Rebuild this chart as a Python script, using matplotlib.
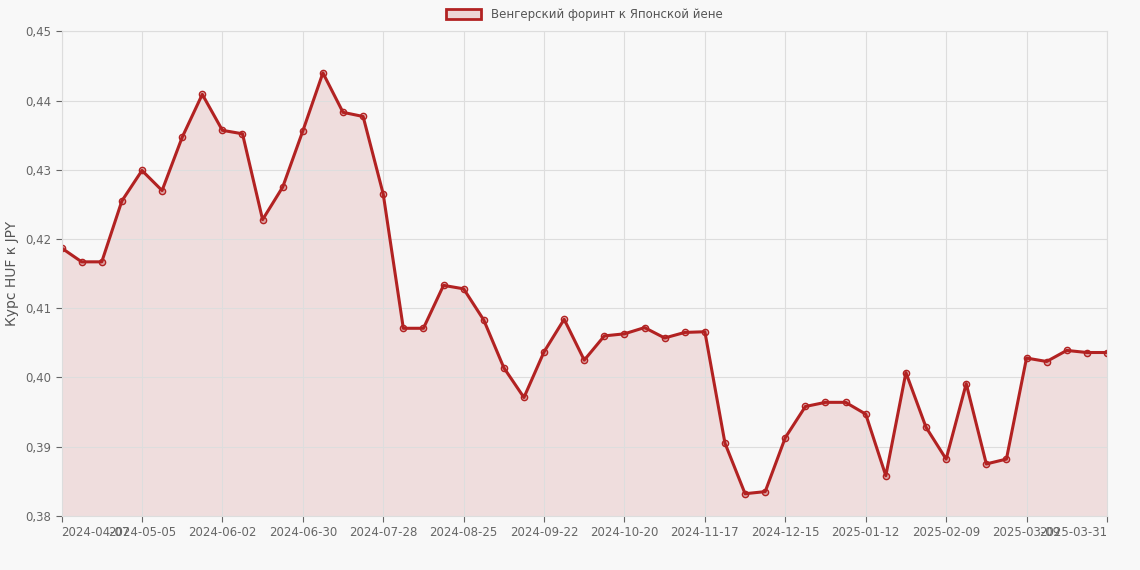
import matplotlib
matplotlib.use("Agg")
import matplotlib.pyplot as plt
from matplotlib.patches import Patch
import numpy as np

tick_labels = ["2024-04-07", "2024-05-05", "2024-06-02", "2024-06-30", "2024-07-28",
               "2024-08-25", "2024-09-22", "2024-10-20", "2024-11-17", "2024-12-15",
               "2025-01-12", "2025-02-09", "2025-03-09", "2025-03-31"]
rates = [0.4187, 0.4167, 0.4167, 0.4255, 0.4299, 0.4270, 0.4347, 0.4409, 0.4357, 0.4352,
         0.4228, 0.4275, 0.4356, 0.4440, 0.4383, 0.4377, 0.4265, 0.4071, 0.4071, 0.4133,
         0.4128, 0.4083, 0.4014, 0.3971, 0.4037, 0.4084, 0.4025, 0.4060, 0.4063, 0.4072,
         0.4057, 0.4065, 0.4066, 0.3905, 0.3832, 0.3835, 0.3913, 0.3958, 0.3964, 0.3964,
         0.3947, 0.3858, 0.4007, 0.3928, 0.3882, 0.3991, 0.3875, 0.3882, 0.4028, 0.4023,
         0.4039, 0.4036, 0.4036]

color = "#b22222"
bg = "#f8f8f8"

fig = plt.figure(figsize=(11.4, 5.7), dpi=100, facecolor=bg)
ax = fig.add_axes([0.054, 0.095, 0.917, 0.85], facecolor=bg)

x = np.arange(len(rates))
ax.fill_between(x, rates, 0.38, color=color, alpha=0.12, lw=0)
ax.plot(x, rates, color=color, lw=2.2, marker="o", ms=4.5, mfc=(0.7, 0.13, 0.13, 0.3),
        mec=color, mew=1)

ax.set_xlim(0, len(rates) - 1)
ax.set_ylim(0.38, 0.45)
ticks = list(range(0, len(rates) - 1, 4)) + [len(rates) - 1]
ax.set_xticks(ticks)
ax.set_xticklabels(tick_labels)
ax.get_xticklabels()[-1].set_ha("right")
ax.get_xticklabels()[0].set_ha("left")
yt = np.arange(0.38, 0.4501, 0.01)
ax.set_yticks(yt)
ax.set_yticklabels([f"{v:.2f}".replace(".", ",") for v in yt])
ax.tick_params(colors="#666666", labelsize=8.5, length=4)
ax.grid(color="#dddddd", lw=0.8)
for s in ax.spines.values():
    s.set_color("#dddddd")
ax.set_ylabel("Курс HUF к JPY", color="#555555", fontsize=10)

handle = Patch(facecolor=(0.7, 0.13, 0.13, 0.15), edgecolor=color, lw=2)
leg = ax.legend([handle], ["Венгерский форинт к Японской йене"], loc="lower center",
                bbox_to_anchor=(0.5, 1.0), frameon=False, fontsize=8.5,
                handlelength=3, handleheight=0.9)
for t in leg.get_texts():
    t.set_color("#555555")

fig.savefig("out.png", dpi=100, facecolor=bg)
